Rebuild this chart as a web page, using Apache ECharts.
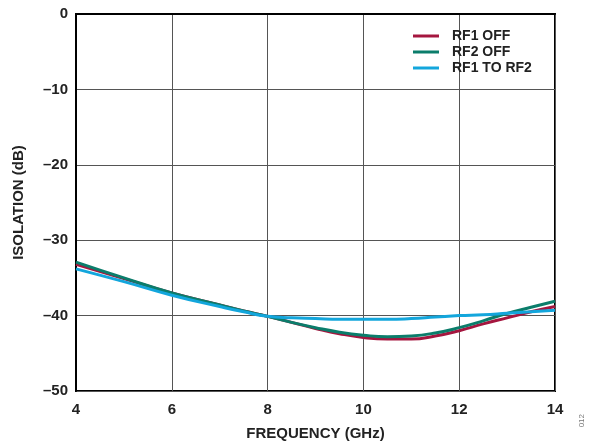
<!DOCTYPE html>
<html>
<head>
<meta charset="utf-8">
<script src="https://cdn.jsdelivr.net/npm/echarts@6/dist/echarts.min.js"></script>
<style>
html, body { margin: 0; padding: 0; background: #fff; }
#chart { width: 593px; height: 446px; }
</style>
</head>
<body>
<div id="chart"></div>
<script>
// frequency points (GHz)
var freqGHz = [4, 5, 6, 7, 7.5, 8, 8.5, 9, 9.5, 10, 10.5, 11, 11.5, 12, 12.5, 13, 13.5, 14];
// isolation (dB)
var rf1Off   = [-33.2, -35.1, -37.0, -38.6, -39.4, -40.1, -40.9, -41.7, -42.4, -42.9, -43.1, -43.1, -42.7, -42.0, -41.1, -40.3, -39.5, -38.8];
var rf2Off   = [-32.9, -35.0, -37.0, -38.6, -39.4, -40.1, -40.9, -41.6, -42.2, -42.6, -42.8, -42.7, -42.3, -41.6, -40.7, -39.7, -38.9, -38.1];
var rf1ToRf2 = [-33.8, -35.5, -37.3, -38.8, -39.5, -40.1, -40.3, -40.4, -40.5, -40.5, -40.5, -40.4, -40.2, -40.0, -39.9, -39.7, -39.5, -39.3];
var seriesNames = ['RF1 OFF', 'RF2 OFF', 'RF1 TO RF2'];
var seriesColors = ['#a5163f', '#0b7d6b', '#13a6dc'];

function pairs(ys) {
    var out = [];
    for (var i = 0; i < freqGHz.length; i++) {
        out.push([freqGHz[i], ys[i]]);
    }
    return out;
}

function dashNum(v) {
    return v < 0 ? '\u2013' + Math.abs(v) : String(v);
}

var chart = echarts.init(document.getElementById('chart'));
var font = 'Liberation Sans, Arial, sans-serif';
var allData = [rf1Off, rf2Off, rf1ToRf2];
var series = [];
seriesNames.forEach(function (name, idx) {
    series.push({
        name: name,
        type: 'line',
        smooth: true,
        showSymbol: false,
        lineStyle: { width: 3, color: seriesColors[idx] },
        itemStyle: { color: seriesColors[idx] },
        data: pairs(allData[idx])
    });
});

var option = {
    backgroundColor: '#fff',
    animation: false,
    textStyle: { fontFamily: font },
    grid: {
        left: 76,
        right: 38,
        top: 14,
        bottom: 50,
        show: true,
        borderColor: '#000',
        borderWidth: 2,
        containLabel: false
    },
    legend: {
        orient: 'vertical',
        left: 408,
        top: 24,
        itemWidth: 26,
        itemHeight: 3,
        itemGap: 2,
        icon: 'rect',
        textStyle: { fontFamily: font, fontWeight: 'bold', fontSize: 14, color: '#222', padding: [0, 0, 0, 8] },
        data: seriesNames
    },
    xAxis: {
        type: 'value',
        min: 4,
        max: 14,
        interval: 2,
        name: 'FREQUENCY (GHz)',
        nameLocation: 'middle',
        nameGap: 35,
        nameTextStyle: { fontFamily: font, fontWeight: 'bold', fontSize: 15, color: '#222' },
        axisLine: { show: true, lineStyle: { color: '#000', width: 2 } },
        axisTick: { show: false },
        axisLabel: { fontFamily: font, fontWeight: 'bold', fontSize: 15, color: '#222', margin: 11 },
        splitLine: { show: true, lineStyle: { color: '#555', width: 1 } }
    },
    yAxis: {
        type: 'value',
        min: -50,
        max: 0,
        interval: 10,
        name: 'ISOLATION (dB)',
        nameLocation: 'middle',
        nameGap: 50,
        nameTextStyle: { fontFamily: font, fontWeight: 'bold', fontSize: 15, color: '#222' },
        axisLine: { show: true, lineStyle: { color: '#000', width: 2 } },
        axisTick: { show: false },
        axisLabel: { fontFamily: font, fontWeight: 'bold', fontSize: 15, color: '#222', margin: 8, formatter: dashNum },
        splitLine: { show: true, lineStyle: { color: '#555', width: 1 } }
    },
    graphic: [{
        type: 'text',
        left: 578,
        top: 414,
        rotation: Math.PI / 2,
        style: { text: '012', fontFamily: font, fontSize: 8, fill: '#777' }
    }],
    series: series
};
chart.setOption(option);
</script>
</body>
</html>
